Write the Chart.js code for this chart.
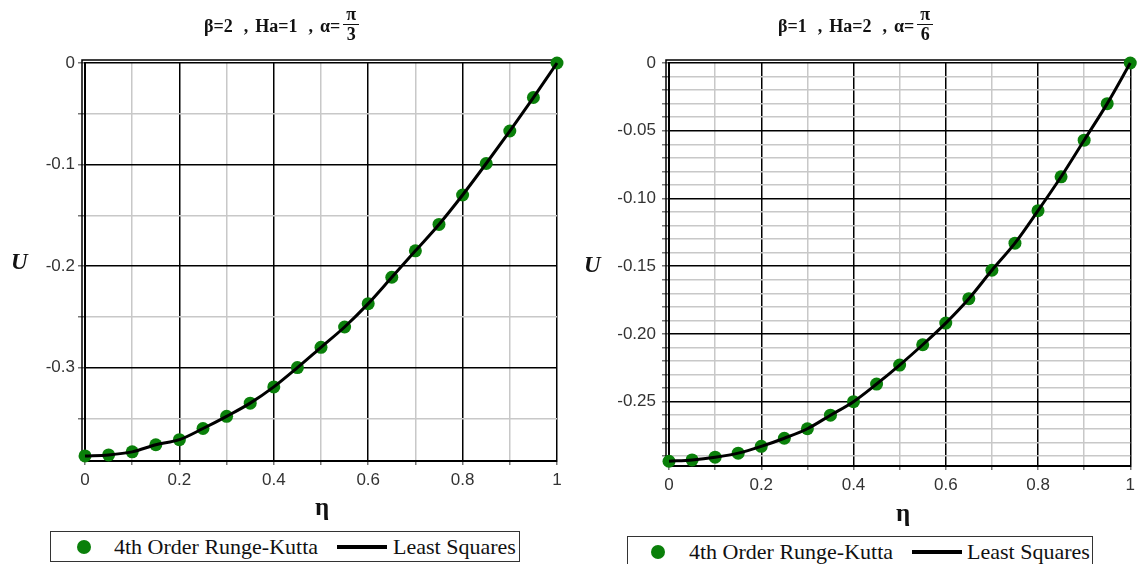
<!DOCTYPE html>
<html>
<head>
<meta charset="utf-8">
<script src="https://cdn.jsdelivr.net/npm/chart.js@4.4.1/dist/chart.umd.min.js"></script>
<style>
    body { margin: 0; background: #fff; }
    #wrap { position: relative; width: 1140px; height: 564px; overflow: hidden; background: #fff; }
    canvas { position: absolute; top: 0; }
    .title { position: absolute; top: 6px; height: 40px; display: flex; align-items: center;
             font: bold 18px "Liberation Serif", serif; color: #111; white-space: nowrap; }
    .title .sep { margin: 0 7px 0 11px; }
    .frac { display: inline-flex; flex-direction: column; align-items: center; line-height: 17px; margin-left: 3px; margin-top: -3px; }
    .frac span:first-child { border-bottom: 1.5px solid #111; padding: 0 3px 1px 3px; }
    .frac span:last-child { padding-top: 1px; }
    .ylab { position: absolute; font: bold italic 23px "Liberation Serif", serif; color: #111; }
    .xlab { position: absolute; width: 40px; text-align: center; font: bold 25px "Liberation Serif", serif; color: #111; }
    .legend { position: absolute; height: 29px; border: 1.5px solid #333; font: 22px "Liberation Serif", serif; color: #111; }
    .legend .dot { position: absolute; top: 8px; width: 14px; height: 14px; border-radius: 50%; background: #0a800a; }
    .legend .txt { position: absolute; top: 0; line-height: 30px; white-space: nowrap; }
    .legend .ln { position: absolute; top: 13px; width: 50px; height: 4px; background: #000; }
</style>
</head>
<body>
<div id="wrap">
    <canvas id="leftChart" width="570" height="530" style="left:0"></canvas>
    <canvas id="rightChart" width="570" height="530" style="left:570px"></canvas>

    <div class="title" style="left:204px">β=2<span class="sep">,</span>Ha=1<span class="sep">,</span>α=<span class="frac"><span>π</span><span>3</span></span></div>
    <div class="title" style="left:778px">β=1<span class="sep">,</span>Ha=2<span class="sep">,</span>α=<span class="frac"><span>π</span><span>6</span></span></div>

    <div class="ylab" style="left:11px;top:249px">U</div>
    <div class="ylab" style="left:584px;top:252px">U</div>
    <div class="xlab" style="left:302px;top:493px">η</div>
    <div class="xlab" style="left:883px;top:499px">η</div>

    <div class="legend" style="left:50px;top:531px;width:468px">
        <div class="dot" style="left:26px"></div>
        <div class="txt" style="left:63px">4th Order Runge-Kutta</div>
        <div class="ln" style="left:286px"></div>
        <div class="txt" style="left:342px">Least Squares</div>
    </div>
    <div class="legend" style="left:627px;top:536px;width:464px">
        <div class="dot" style="left:23px"></div>
        <div class="txt" style="left:61px">4th Order Runge-Kutta</div>
        <div class="ln" style="left:284px"></div>
        <div class="txt" style="left:339px">Least Squares</div>
    </div>
</div>

<script>
// η stations, shared by both panels
const eta = [0, 0.05, 0.1, 0.15, 0.2, 0.25, 0.3, 0.35, 0.4, 0.45, 0.5,
             0.55, 0.6, 0.65, 0.7, 0.75, 0.8, 0.85, 0.9, 0.95, 1];

// β=2, Ha=1, α=π/3
const uLeft = [-0.387, -0.386, -0.383, -0.376, -0.371, -0.360, -0.348, -0.335, -0.319, -0.300, -0.280,
               -0.260, -0.237, -0.211, -0.185, -0.159, -0.130, -0.099, -0.067, -0.034, 0];

// β=1, Ha=2, α=π/6
const uRight = [-0.294, -0.293, -0.291, -0.288, -0.283, -0.277, -0.270, -0.260, -0.250, -0.237, -0.223,
                -0.208, -0.192, -0.174, -0.153, -0.133, -0.109, -0.084, -0.057, -0.030, 0];

const xTickLabels = ['0', '0.2', '0.4', '0.6', '0.8', '1'];
const leftYTickLabels = ['0', '-0.1', '-0.2', '-0.3'];
const rightYTickLabels = ['0', '-0.05', '-0.10', '-0.15', '-0.20', '-0.25'];

const MAJOR_COLOR = '#000000';
const MINOR_COLOR = '#c8c8c8';
const DOT_COLOR = '#0a800a';
const TICK_FONT = { family: '"Liberation Sans", sans-serif', size: 17 };

function isMajor(value, major) {
    const r = Math.round(value * 1000) / Math.round(major * 1000);
    return Math.abs(r - Math.round(r)) < 1e-6;
}

function steps(from, to, step) {
    const out = [];
    const n = Math.round((to - from) / step);
    for (let i = 0; i <= n; i++) {
        out.push({ value: Math.round((from + i * step) * 1000) / 1000 });
    }
    return out;
}

function toPoints(ys) {
    return eta.map((x, i) => ({ x: x, y: ys[i] }));
}

// second frame line just outside the left and top edges of the plot
const outerFrame = {
    id: 'outerFrame',
    beforeDatasetsDraw(chart) {
        const a = chart.chartArea;
        const c = chart.ctx;
        c.save();
        c.strokeStyle = '#000';
        c.lineWidth = 1.5;
        c.beginPath();
        c.moveTo(a.left - 3, a.bottom);
        c.lineTo(a.left - 3, a.top - 3);
        c.lineTo(a.right, a.top - 3);
        c.stroke();
        c.restore();
    }
};

function loadPanel(canvasId, u, cfg) {
    const ctx = document.getElementById(canvasId).getContext('2d');
    return new Chart(ctx, {
        type: 'scatter',
        data: {
            datasets: [
                {
                    label: 'Least Squares',
                    data: toPoints(u),
                    showLine: true,
                    borderColor: '#000',
                    borderWidth: 3,
                    pointRadius: 0,
                    cubicInterpolationMode: 'monotone',
                    clip: false,
                    order: 0
                },
                {
                    label: '4th Order Runge-Kutta',
                    data: toPoints(u),
                    showLine: false,
                    backgroundColor: DOT_COLOR,
                    borderColor: DOT_COLOR,
                    pointRadius: 6.5,
                    borderWidth: 0,
                    clip: false,
                    order: 1
                }
            ]
        },
        options: {
            responsive: false,
            animation: false,
            devicePixelRatio: 1,
            layout: { padding: { top: 63, right: cfg.padRight, left: 0, bottom: 0 } },
            plugins: { legend: { display: false }, tooltip: { enabled: false } },
            scales: {
                x: {
                    type: 'linear',
                    min: 0,
                    max: 1,
                    afterBuildTicks: function (scale) { scale.ticks = steps(0, 1, 0.1); },
                    afterFit: function (scale) { scale.height = cfg.xAxisHeight; },
                    ticks: {
                        autoSkip: false,
                        maxRotation: 0,
                        padding: 5,
                        color: '#333',
                        font: TICK_FONT,
                        callback: function (value) {
                            return isMajor(value, 0.2) ? xTickLabels[Math.round(value / 0.2)] : '';
                        }
                    },
                    grid: {
                        color: (c) => isMajor(c.tick.value, 0.2) ? MAJOR_COLOR : MINOR_COLOR,
                        lineWidth: 1.5,
                        tickLength: 4,
                        tickColor: '#777'
                    },
                    border: { display: true, color: '#000', width: 2 }
                },
                y: {
                    type: 'linear',
                    min: cfg.yMin,
                    max: 0,
                    afterBuildTicks: function (scale) {
                        scale.ticks = steps(cfg.yMinorFrom, 0, cfg.yMinor);
                    },
                    afterFit: function (scale) { scale.width = cfg.yAxisWidth; },
                    ticks: {
                        autoSkip: false,
                        padding: cfg.yPad,
                        color: '#333',
                        font: TICK_FONT,
                        callback: function (value) {
                            return isMajor(value, cfg.yMajor) ? cfg.yLabels[Math.round(-value / cfg.yMajor)] : '';
                        }
                    },
                    grid: {
                        color: (c) => isMajor(c.tick.value, cfg.yMajor) ? MAJOR_COLOR : MINOR_COLOR,
                        lineWidth: 1.5,
                        tickLength: 7,
                        tickColor: '#777'
                    },
                    border: { display: true, color: '#000', width: 2 }
                }
            }
        },
        plugins: [outerFrame]
    });
}

document.addEventListener('DOMContentLoaded', function () {
    loadPanel('leftChart', uLeft, {
        yMin: -0.392, yMinorFrom: -0.35, yMinor: 0.05, yMajor: 0.1, yLabels: leftYTickLabels,
        yAxisWidth: 85, yPad: 3, padRight: 13, xAxisHeight: 69
    });
    loadPanel('rightChart', uRight, {
        yMin: -0.2975, yMinorFrom: -0.29, yMinor: 0.01, yMajor: 0.05, yLabels: rightYTickLabels,
        yAxisWidth: 99, yPad: 6, padRight: 3, xAxisHeight: 64
    });
});
</script>
</body>
</html>
